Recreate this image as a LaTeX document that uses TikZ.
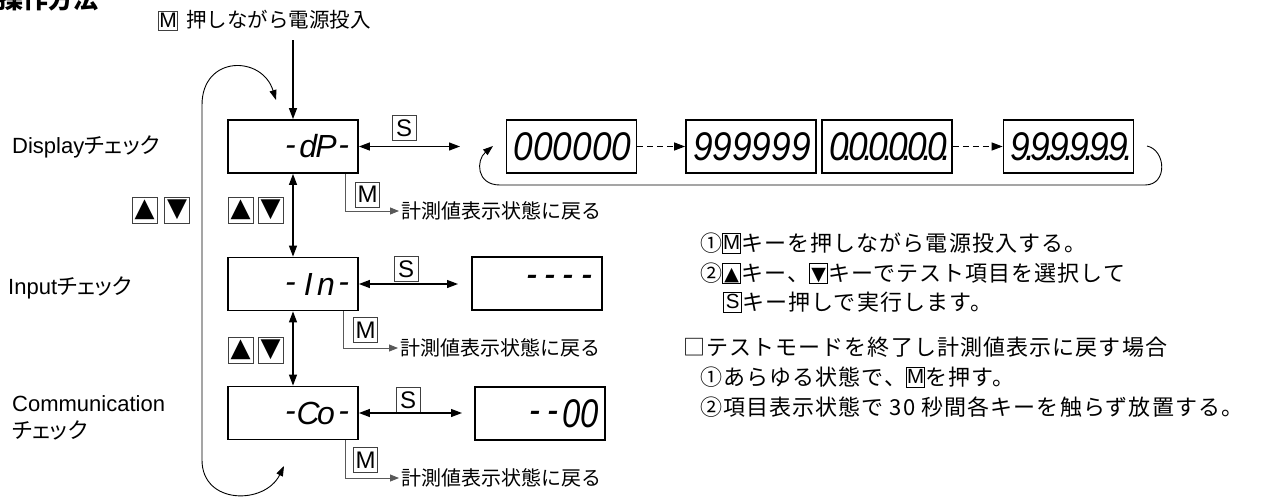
\documentclass[tikz,border=0pt]{standalone}
\usepackage{fontspec}
\usepackage{graphicx}
\usetikzlibrary{arrows.meta}
\setmainfont{Noto Sans CJK JP}
\newfontfamily\lat{Liberation Sans}
\newfontfamily\jpp{Noto Sans CJK JP}[RawFeature=+palt]
\newfontfamily\sym{DejaVu Sans}
\newfontfamily\segf{Liberation Sans}
\newlength\segw
\def\segloop#1{%
  \ifx#1\relax\else
    \ifx#1.\makebox[0pt][c]{.}%
    \else\ifx#1-\makebox[\segw][c]{\raisebox{0.09em}{-}}%
    \else\makebox[\segw][c]{#1}\fi\fi
    \expandafter\segloop
  \fi}
\newcommand\segtext[3]{{\segf\itshape\fontsize{#1}{#1}\selectfont\setlength\segw{0.556em}\scalebox{#2}[1]{\segloop#3\relax}}}
\newcommand\kb[1]{{\setlength\fboxsep{0pt}\setlength\fboxrule{0.75pt}\fbox{\makebox[17.5pt]{\rule[-1.5pt]{0pt}{19pt}#1}}}}
\newcommand\kM{\kb{\raisebox{1.2pt}{\lat\fontsize{20.5}{20.5}\selectfont M}}}
\newcommand\kS{\kb{\raisebox{1.2pt}{\lat\fontsize{20.5}{20.5}\selectfont S}}}
\newcommand\kU{\kb{\raisebox{0.8pt}{\sym\fontsize{19}{19}\selectfont ▲}}}
\newcommand\kD{\kb{\raisebox{0.8pt}{\sym\fontsize{19}{19}\selectfont ▼}}}
\newcommand\lbfont{\fontsize{22}{22}\selectfont}
\newcommand\notefont{\fontsize{22}{22}\selectfont\addfontfeature{LetterSpace=5}}
\begin{document}
\begin{tikzpicture}[x=1pt,y=-1pt,
  disp/.style={draw,line width=1.8pt,minimum width=130pt,minimum height=53pt,inner sep=0pt},
  seg/.style={anchor=east,inner sep=0pt},
  key/.style={draw=black!75,line width=0.8pt,minimum width=24pt,minimum height=25pt,inner sep=0pt,font=\lat\fontsize{24}{24}\selectfont},
  tri/.style={draw=black!75,line width=0.8pt,minimum width=25pt,minimum height=26pt,inner sep=0pt,font=\sym\fontsize{26}{26}\selectfont},
  lbl/.style={anchor=west,inner sep=0pt,font=\lbfont},
  ret/.style={anchor=west,inner sep=0pt,font=\fontsize{20}{20}\selectfont},
  note/.style={anchor=west,inner sep=0pt,font=\notefont},
  conn/.style={line width=1.2pt,-{Triangle[length=11pt,width=8pt]}},
  dconn/.style={line width=1.2pt,{Triangle[length=11pt,width=8pt]}-{Triangle[length=11pt,width=8pt]}},
  branch/.style={draw=black!65,line width=0.8pt,-{Triangle[length=9pt,width=7pt]}},
  loopline/.style={line width=0.9pt},
  looptip/.style={-{Triangle[length=10pt,width=7pt]}},
  dsh/.style={line width=1.2pt,dash pattern=on 6pt off 4pt,-{Triangle[length=11pt,width=8pt]}}
]
\useasboundingbox (0,0) rectangle (1261,498);
\clip (0,0) rectangle (1261,498);

% title (cut off at the top edge, as in the reference)
\node[anchor=base west,inner sep=0pt,font=\fontsize{25}{25}\selectfont\bfseries] (title) at (-2,8) {操作方法};

% power-on instruction
\node[key,minimum width=19pt,minimum height=19pt,font=\lat\fontsize{21}{21}\selectfont] (tm) at (168,20.5) {M};
\node[anchor=west,inner sep=0pt,font=\fontsize{20.5}{20.5}\selectfont] (tt) at (186,20) {押しながら電源投入};
\coordinate (start) at (293,40);

% left labels
\node[lbl] (lab1) at (12,147) {{\lat Display}{\jpp チェック}};
\node[lbl] (lab2) at (8,288) {{\lat Input}{\jpp チェック}};
\node[lbl] (lab3) at (12,404) {{\lat Communication}};
\node[lbl] (lab4) at (12,430) {{\jpp チェック}};

% main display boxes
\node[disp] (dp) at (293,146.5) {};
\node[seg] (dpt) at ([xshift=-6pt]dp.east) {\segtext{32}{1}{-dP-}};
\node[disp] (in) at (293,284) {};
\node[seg] (int) at ([xshift=-6pt]in.east) {\segtext{32}{1}{-In-}};
\node[disp] (co) at (293,413) {};
\node[seg] (cot) at ([xshift=-6pt]co.east) {\segtext{32}{1}{-Co-}};

% result boxes
\node[disp] (r1) at (571.5,146.5) {};
\node[seg] (r1t) at ([xshift=-6pt]r1.east) {\segtext{40}{0.88}{000000}};
\node[disp] (r2) at (751,146.5) {};
\node[seg] (r2t) at ([xshift=-6pt]r2.east) {\segtext{40}{0.88}{999999}};
\node[disp] (r3) at (887,146.5) {};
\node[seg] (r3t) at ([xshift=-6pt]r3.east) {\segtext{40}{0.88}{0.0.0.0.0.0.}};
\node[disp] (r4) at (1068.5,146.5) {};
\node[seg] (r4t) at ([xshift=-6pt]r4.east) {\segtext{40}{0.88}{9.9.9.9.9.9.}};
\node[disp] (r5) at (537,283.5) {};
\node[seg] (r5t) at ([xshift=-7pt]r5.east) {\segtext{40}{0.82}{----}};
\node[disp] (r6) at (540,413.5) {};
\node[seg] (r6t) at ([xshift=-7pt]r6.east) {\segtext{40}{0.82}{--00}};

% S keys and arrows
\node[key] (s1) at (404,128) {S};
\node[key] (s2) at (406,269) {S};
\node[key] (s3) at (408,400) {S};
\coordinate (s1e) at (460,146.5);
\coordinate (s2e) at (458,284);
\coordinate (s3e) at (462,413);
\draw[dconn] (dp.east) -- (s1e);
\draw[dconn] (in.east) -- (s2e);
\draw[dconn] (co.east) -- (s3e);

% M keys and return branches
\node[key] (m1) at (367.5,194.5) {M};
\node[key] (m2) at (365.5,330) {M};
\node[key] (m3) at (365.5,460) {M};
\node[ret] (rt1) at (401,211) {計測値表示状態に戻る};
\node[ret] (rt2) at (400,348) {計測値表示状態に戻る};
\node[ret] (rt3) at (401,478) {計測値表示状態に戻る};
\coordinate (b1) at (345,0);
\coordinate (b2) at (343,0);
\coordinate (b3) at (345,0);
\draw[branch] (dp.south -| b1) |- ([xshift=-2pt]rt1.west);
\draw[branch] (in.south -| b2) |- ([xshift=-2pt]rt2.west);
\draw[branch] (co.south -| b3) |- ([xshift=-2pt]rt3.west);

% vertical flow
\draw[conn] (start) -- (dp.north);
\draw[dconn] (dp.south) -- (in.north);
\draw[dconn] (in.south) -- (co.north);

% up/down keys
\node[tri] (u0) at (144.5,210) {▲};
\node[tri] (d0) at (177,210) {▼};
\node[tri] (u1) at (240.5,210) {▲};
\node[tri] (d1) at (270.5,210) {▼};
\node[tri] (u2) at (240.5,350) {▲};
\node[tri] (d2) at (270.5,350) {▼};

% left loop
\coordinate (lpA) at (276,100);
\coordinate (lpB) at (202,105);
\coordinate (lpC) at (202,460);
\coordinate (lpD) at (284,466);
\draw[loopline,{Triangle[length=10pt,width=7pt]}-{Triangle[length=10pt,width=7pt]}]
  (lpD) .. controls (265,505) and (202,505) .. (lpC) -- (lpB)
  .. controls (202,55) and (262,55) .. (lpA);

% top row loop and dashed arrows
\coordinate (tlA) at (1147,146);
\coordinate (tlB) at (493,146);
\draw[loopline,looptip] (tlA) .. controls (1166,150) and (1168,185) .. (1145,185)
  -- (500,185) .. controls (476,185) and (476,160) .. (tlB);
\draw[dsh] (r1.east) -- (r2.west);
\draw[dsh] (r3.east) -- (r4.west);

% notes
\node[note] (n1) at (700,243) {①\kM キーを押しながら電源投入する。};
\node[note] (n2) at (700,273) {②\kU キー、\kD キーでテスト項目を選択して};
\node[note] (n3) at (723,302) {\kS キー押しで実行します。};
\node[note] (n4) at (683,347) {□テストモードを終了し計測値表示に戻す場合};
\node[note] (n5) at (700,377) {①あらゆる状態で、\kM を押す。};
\node[note] (n6) at (700,407) {②項目表示状態で 30 秒間各キーを触らず放置する。};
\end{tikzpicture}
\end{document}
